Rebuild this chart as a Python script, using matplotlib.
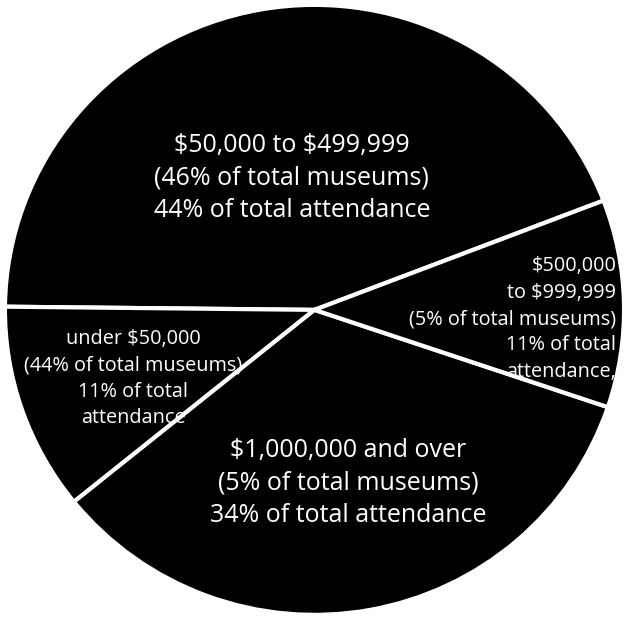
import matplotlib
matplotlib.use("Agg")
import matplotlib.pyplot as plt

# museum budget classes, share of total attendance
classes = ["$50,000 to $499,999", "under $50,000", "$1,000,000 and over", "$500,000 to $999,999"]
attendance = [44, 11, 34, 11]
museums = [46, 44, 5, 5]

plt.rcParams['font.family'] = ['Open Sans', 'DejaVu Sans']

fig = plt.figure(figsize=(6.29, 6.17), dpi=100)
ax = fig.add_axes([0, 0, 1, 1])

ax.pie(attendance, startangle=21, counterclock=True, colors=['black'] * 4,
       wedgeprops=dict(edgecolor='white', linewidth=3))
ax.set_aspect('auto')
ax.set_xlim(-1.016, 1.016)
ax.set_ylim(-1.007, 1.016)
ax.axis('off')

labels = [
    f"{classes[0]}\n({museums[0]}% of total museums)\n{attendance[0]}% of total attendance",
    f"{classes[1]}\n({museums[1]}% of total museums)\n{attendance[1]}% of total\nattendance",
    f"{classes[2]}\n({museums[2]}% of total museums)\n{attendance[2]}% of total attendance",
    "$500,000\nto $999,999\n" + f"({museums[3]}% of total museums)\n{attendance[3]}% of total\nattendance,",
]

big = dict(color='white', fontsize=18, ha='center', va='center', linespacing=1.38,
           parse_math=False)
small = dict(color='white', fontsize=14.3, va='center', linespacing=1.42, parse_math=False)

ax.text(-0.073, 0.433, labels[0], **big)
ax.text(-0.586, -0.225, labels[1], ha='center', **small)
ax.text(0.108, -0.567, labels[2], **big)
ax.text(0.975, -0.03, labels[3], ha='right', multialignment='right', **small)

fig.savefig("out.png", dpi=100, facecolor='white')
